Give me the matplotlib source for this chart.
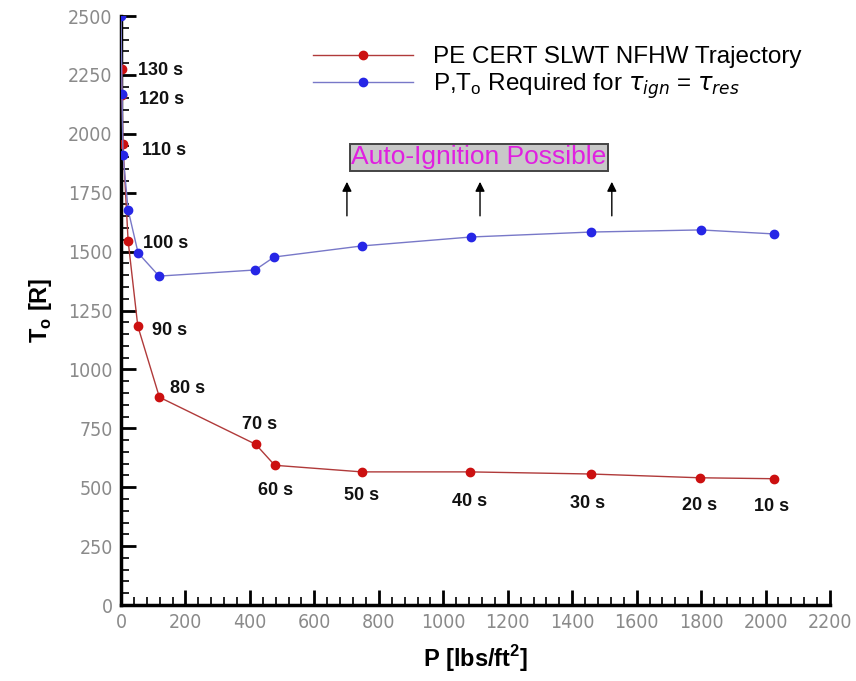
import matplotlib
matplotlib.use("Agg")
import matplotlib.pyplot as plt
from matplotlib.ticker import MultipleLocator

# trajectory (red)
traj_p = [2, 3, 6, 22, 52, 119, 418, 477, 747, 1083, 1458, 1796, 2026]
traj_t = [2275, 2165, 1957, 1545, 1184, 882, 682, 593, 565, 565, 556, 540, 536]
traj_lbl = ["130 s", "120 s", "110 s", "100 s", "90 s", "80 s", "70 s",
            "60 s", "50 s", "40 s", "30 s", "20 s", "10 s"]
# required P,To for tau_ign = tau_res (blue)
req_p = [0, 3, 6, 22, 53, 118, 416, 475, 747, 1086, 1458, 1799, 2026]
req_t = [2500, 2168, 1912, 1677, 1494, 1396, 1422, 1477, 1524, 1562, 1583, 1592, 1575]
arrow_p = [701, 1114, 1523]

# label offsets (points) relative to each red point
lbl_off = [(12, -1), (12, -3), (14, -5), (11, -2), (10, -3), (8, 6), (-10, 14),
           (-12, -18), (-13, -17), (-13, -21), (-15, -21), (-13, -20), (-14, -20)]

fig = plt.figure(figsize=(8.56, 6.81), dpi=100)
ax = fig.add_axes([0.1414, 0.1116, 0.8282, 0.8649])

ax.plot(traj_p, traj_t, color="#b03a3a", lw=1.0, marker="o", ms=6,
        mfc="#cc1010", mec="#cc1010", label="PE CERT SLWT NFHW Trajectory", zorder=3)
ax.plot(req_p, req_t, color="#7878c8", lw=1.0, marker="o", ms=6,
        mfc="#2626e6", mec="#2626e6",
        label=r"P,T$_\mathregular{o}$ Required for $\tau_{ign}$ = $\tau_{res}$", zorder=4)

for p, t, s, off in zip(traj_p, traj_t, traj_lbl, lbl_off):
    ax.annotate(s, (p, t), xytext=off, textcoords="offset points",
                fontsize=13, fontweight="bold", color="#111111",
                family="Liberation Sans", va="center")

ax.text(1111, 1900, "Auto-Ignition Possible", color="#e020e0", fontsize=19,
        family="Liberation Sans", ha="center", va="center",
        bbox=dict(boxstyle="square,pad=0.06", fc="#c8c8c8", ec="#444444", lw=1.4))
for p in arrow_p:
    ax.annotate("", xy=(p, 1808), xytext=(p, 1640),
                arrowprops=dict(arrowstyle="-|>", color="black", lw=1.0,
                                mutation_scale=14))

ax.set_xlim(0, 2200)
ax.set_ylim(0, 2500)
ax.xaxis.set_major_locator(MultipleLocator(200))
ax.xaxis.set_minor_locator(MultipleLocator(40))
ax.yaxis.set_major_locator(MultipleLocator(250))
ax.yaxis.set_minor_locator(MultipleLocator(50))
ax.tick_params(which="major", direction="in", length=11, width=2, color="black",
               labelsize=14, labelcolor="#8a8a8a", pad=6)
ax.tick_params(which="minor", direction="in", length=6, width=1.2, color="black")
for lab in ax.get_xticklabels() + ax.get_yticklabels():
    lab.set_family("DejaVu Sans")
    lab.set_fontstretch("condensed")
    lab.set_fontweight("light")
ax.spines["top"].set_visible(False)
ax.spines["right"].set_visible(False)
ax.spines["left"].set_linewidth(2.5)
ax.spines["bottom"].set_linewidth(2.5)

ax.set_xlabel(r"P [lbs/ft$^\mathregular{2}$]", fontsize=17, fontweight="bold",
              family="Liberation Sans", labelpad=8)
ax.set_ylabel(r"T$_\mathregular{o}$ [R]", fontsize=17, fontweight="bold",
              family="Liberation Sans", labelpad=10)

leg = ax.legend(loc="upper right", bbox_to_anchor=(0.99, 0.986), frameon=False,
                prop={"family": "Liberation Sans", "size": 17.5}, handlelength=4.1,
                labelspacing=0.12, handletextpad=0.8)

fig.savefig("out.png", dpi=100)
